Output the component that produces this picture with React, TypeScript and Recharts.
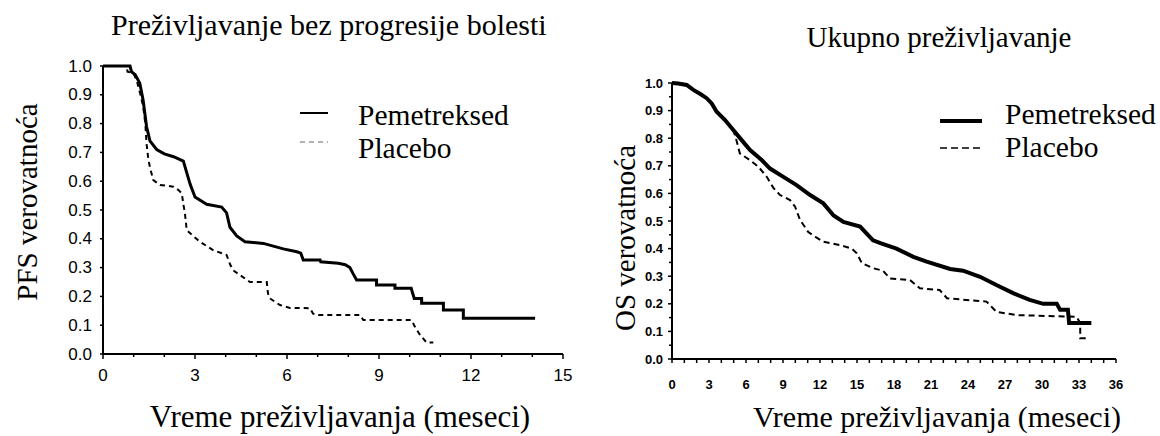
import { LineChart, Line, XAxis, YAxis } from "recharts";

// PFS (left panel)
const pfsPemT = [0, 0.88, 0.93, 1.05, 1.2, 1.31, 1.42, 1.53, 1.75, 2.0, 2.3, 2.62, 2.73, 2.84, 3.0, 3.38, 3.87, 4.03, 4.14, 4.36, 4.63, 5.23, 5.88, 6.32, 6.45, 6.53, 7.08, 7.1, 7.67, 7.9, 8.05, 8.15, 8.27, 8.92, 8.92, 9.52, 9.52, 10.05, 10.1, 10.15, 10.39, 10.39, 11.1, 11.1, 11.75, 11.75, 14.09];
const pfsPemS = [1.0, 1.0, 0.98, 0.97, 0.94, 0.88, 0.79, 0.74, 0.71, 0.695, 0.685, 0.67, 0.63, 0.59, 0.545, 0.52, 0.51, 0.49, 0.44, 0.41, 0.39, 0.384, 0.365, 0.355, 0.35, 0.326, 0.326, 0.32, 0.315, 0.31, 0.3, 0.28, 0.257, 0.257, 0.24, 0.24, 0.228, 0.228, 0.21, 0.193, 0.193, 0.176, 0.176, 0.153, 0.153, 0.124, 0.124];
const pfsPlaT = [0, 0.77, 0.8, 0.99, 1.1, 1.21, 1.31, 1.38, 1.42, 1.48, 1.55, 1.64, 1.86, 2.29, 2.45, 2.57, 2.62, 2.67, 2.73, 2.94, 3.16, 3.6, 4.03, 4.15, 4.25, 4.47, 4.79, 5.34, 5.38, 5.44, 5.77, 6.1, 6.75, 6.85, 7.02, 8.38, 8.49, 10.06, 10.17, 10.34, 10.55, 10.77];
const pfsPlaS = [1.0, 1.0, 0.98, 0.975, 0.95, 0.905, 0.86, 0.8, 0.73, 0.674, 0.64, 0.604, 0.587, 0.581, 0.57, 0.558, 0.52, 0.49, 0.43, 0.41, 0.39, 0.36, 0.344, 0.31, 0.29, 0.274, 0.25, 0.25, 0.21, 0.193, 0.17, 0.16, 0.159, 0.14, 0.135, 0.135, 0.118, 0.118, 0.095, 0.066, 0.04, 0.04];

// OS (right panel)
const osPemT = [0, 0.5, 1.19, 1.73, 2.3, 2.81, 3.22, 3.62, 4.3, 4.97, 5.65, 6.33, 7.27, 7.95, 9.03, 10.1, 11.2, 12.27, 13.1, 13.9, 15.25, 16.3, 16.9, 18.2, 19.57, 20.65, 22.55, 23.6, 24.98, 26.3, 27.7, 29.0, 30.1, 31.2, 31.47, 32.1, 32.2, 34.0];
const osPemS = [1.0, 0.998, 0.993, 0.975, 0.96, 0.945, 0.926, 0.896, 0.866, 0.83, 0.793, 0.757, 0.721, 0.69, 0.66, 0.63, 0.594, 0.564, 0.52, 0.497, 0.48, 0.43, 0.42, 0.4, 0.37, 0.353, 0.326, 0.32, 0.298, 0.268, 0.238, 0.214, 0.2, 0.2, 0.178, 0.178, 0.13, 0.13];
const osPlaT = [0, 0.5, 1.19, 1.73, 2.3, 2.81, 3.22, 3.62, 4.3, 4.97, 5.24, 5.5, 6.33, 7.0, 7.68, 8.22, 8.76, 9.57, 9.98, 10.38, 11.05, 11.6, 12.27, 13.6, 14.57, 14.98, 15.4, 16.3, 17.1, 17.68, 19.3, 20.1, 21.7, 22.3, 25.5, 26.3, 27.95, 32.8, 33.1, 33.1, 33.6];
const osPlaS = [1.0, 0.998, 0.993, 0.975, 0.96, 0.945, 0.926, 0.896, 0.866, 0.83, 0.79, 0.745, 0.72, 0.697, 0.66, 0.62, 0.594, 0.576, 0.552, 0.504, 0.46, 0.443, 0.425, 0.413, 0.4, 0.383, 0.347, 0.329, 0.32, 0.292, 0.286, 0.256, 0.25, 0.22, 0.208, 0.171, 0.159, 0.153, 0.13, 0.075, 0.075];

const pfsXTicks = [0, 1, 2, 3, 4, 5, 6, 7, 8, 9, 10, 11, 12, 13, 14, 15];
const osXTicks = [0, 1, 2, 3, 4, 5, 6, 7, 8, 9, 10, 11, 12, 13, 14, 15, 16, 17, 18, 19, 20, 21, 22, 23, 24, 25, 26, 27, 28, 29, 30, 31, 32, 33, 34, 35, 36];
const pfsYTicks = [0, 0.1, 0.2, 0.3, 0.4, 0.5, 0.6, 0.7, 0.8, 0.9, 1.0];
const osYTicks = [0, 0.05, 0.1, 0.15, 0.2, 0.25, 0.3, 0.35, 0.4, 0.45, 0.5, 0.55, 0.6, 0.65, 0.7, 0.75, 0.8, 0.85, 0.9, 0.95, 1.0];

const seriesNames = ["Pemetreksed", "Placebo"];

const toRows = (t: number[], s: number[]) => t.map((x, i) => ({ t: x, s: s[i] }));

const serif = "'Liberation Serif', 'Times New Roman', serif";
const sans = "'Liberation Sans', Arial, sans-serif";
const narrow = "'Liberation Sans Narrow', 'Arial Narrow', 'Liberation Sans', sans-serif";

type TickStyle = { font: string; size: number; weight: number; gap: number; major: number; minor: number };

const isMajor = (v: number, step: number) => Math.abs(v / step - Math.round(v / step)) < 1e-6;

const xTick = (st: TickStyle, step: number) => (props: any) => {
  const { x, y, payload } = props;
  const v = payload.value;
  const big = isMajor(v, step);
  return (
    <g>
      <line x1={x} y1={y} x2={x} y2={y + (big ? st.major : st.minor)} stroke="#000" strokeWidth={1.5} />
      {big && (
        <text x={x} y={y + st.gap} textAnchor="middle" dominantBaseline="central" fontFamily={st.font} fontSize={st.size} fontWeight={st.weight} fill="#000">
          {v}
        </text>
      )}
    </g>
  );
};

const yTick = (st: TickStyle, step: number) => (props: any) => {
  const { x, y, payload } = props;
  const v = payload.value;
  const big = isMajor(v, step);
  return (
    <g>
      <line x1={x} y1={y} x2={x - (big ? st.major : st.minor)} y2={y} stroke="#000" strokeWidth={1.5} />
      {big && (
        <text x={x - st.gap} y={y} textAnchor="end" dominantBaseline="central" fontFamily={st.font} fontSize={st.size} fontWeight={st.weight} fill="#000">
          {v.toFixed(1)}
        </text>
      )}
    </g>
  );
};

const pfsTickX: TickStyle = { font: sans, size: 17, weight: 400, gap: 21, major: 5, minor: 3 };
const pfsTickY: TickStyle = { font: sans, size: 17, weight: 400, gap: 11, major: 3, minor: 3 };
const osTickX: TickStyle = { font: narrow, size: 13, weight: 700, gap: 25, major: 4, minor: 4 };
const osTickY: TickStyle = { font: narrow, size: 13, weight: 700, gap: 9, major: 4, minor: 3 };

export default function App() {
  return (
    <div style={{ position: "absolute", left: 0, top: 0, width: 1160, height: 436, background: "#fff" }}>
      <div style={{ position: "absolute", left: 0, top: 0 }}>
        <LineChart width={580} height={436} margin={{ top: 66, right: 17, bottom: 52, left: 63 }}>
          <XAxis
            type="number"
            dataKey="t"
            domain={[0, 15]}
            ticks={pfsXTicks}
            interval={0}
            height={30}
            tickSize={0}
            tickMargin={0}
            tickLine={false}
            axisLine={{ stroke: "#000", strokeWidth: 2 }}
            tick={xTick(pfsTickX, 3)}
          />
          <YAxis
            type="number"
            domain={[0, 1]}
            ticks={pfsYTicks}
            interval={0}
            width={40}
            tickSize={0}
            tickMargin={0}
            tickLine={false}
            axisLine={{ stroke: "#000", strokeWidth: 2 }}
            tick={yTick(pfsTickY, 0.1)}
          />
          <Line data={toRows(pfsPemT, pfsPemS)} dataKey="s" name={seriesNames[0]} type="linear" stroke="#000" strokeWidth={3} dot={false} isAnimationActive={false} />
          <Line data={toRows(pfsPlaT, pfsPlaS)} dataKey="s" name={seriesNames[1]} type="linear" stroke="#000" strokeWidth={2} strokeDasharray="5 4" dot={false} isAnimationActive={false} />
        </LineChart>
      </div>
      <div style={{ position: "absolute", left: 580, top: 0 }}>
        <LineChart width={580} height={436} margin={{ top: 83, right: 44, bottom: 47, left: 52 }}>
          <XAxis
            type="number"
            dataKey="t"
            domain={[0, 36]}
            ticks={osXTicks}
            interval={0}
            height={30}
            tickSize={0}
            tickMargin={0}
            tickLine={false}
            axisLine={{ stroke: "#000", strokeWidth: 2 }}
            tick={xTick(osTickX, 3)}
          />
          <YAxis
            type="number"
            domain={[0, 1]}
            ticks={osYTicks}
            interval={0}
            width={40}
            tickSize={0}
            tickMargin={0}
            tickLine={false}
            axisLine={{ stroke: "#000", strokeWidth: 2 }}
            tick={yTick(osTickY, 0.1)}
          />
          <Line data={toRows(osPemT, osPemS)} dataKey="s" name={seriesNames[0]} type="linear" stroke="#000" strokeWidth={4} dot={false} isAnimationActive={false} />
          <Line data={toRows(osPlaT, osPlaS)} dataKey="s" name={seriesNames[1]} type="linear" stroke="#000" strokeWidth={2} strokeDasharray="6 4" dot={false} isAnimationActive={false} />
        </LineChart>
      </div>
      <svg width={1160} height={436} style={{ position: "absolute", left: 0, top: 0, pointerEvents: "none" }}>
        <g fontFamily={serif} fill="#000">
          <text x={111} y={35} fontSize={30}>Preživljavanje bez progresije bolesti</text>
          <text x={939} y={47} fontSize={29} textAnchor="middle">Ukupno preživljavanje</text>
          <text transform="translate(37,202) rotate(-90)" fontSize={29} textAnchor="middle">PFS verovatnoća</text>
          <text transform="translate(635,238) rotate(-90)" fontSize={29} textAnchor="middle">OS verovatnoća</text>
          <text x={340} y={427} fontSize={31} textAnchor="middle">Vreme preživljavanja (meseci)</text>
          <text x={937} y={427} fontSize={30} textAnchor="middle">Vreme preživljavanja (meseci)</text>

          <line x1={300} y1={113} x2={328} y2={113} stroke="#000" strokeWidth={2} />
          <line x1={300} y1={142} x2={328} y2={142} stroke="#999" strokeWidth={1.5} strokeDasharray="5 4" />
          <text x={358} y={125} fontSize={29.5}>{seriesNames[0]}</text>
          <text x={358} y={158} fontSize={29.5}>{seriesNames[1]}</text>

          <line x1={940} y1={121} x2={982} y2={121} stroke="#000" strokeWidth={4} />
          <line x1={940} y1={148} x2={982} y2={148} stroke="#000" strokeWidth={1.5} strokeDasharray="7 4" />
          <text x={1005} y={124} fontSize={29.5}>{seriesNames[0]}</text>
          <text x={1005} y={157} fontSize={29.5}>{seriesNames[1]}</text>
        </g>
      </svg>
    </div>
  );
}
